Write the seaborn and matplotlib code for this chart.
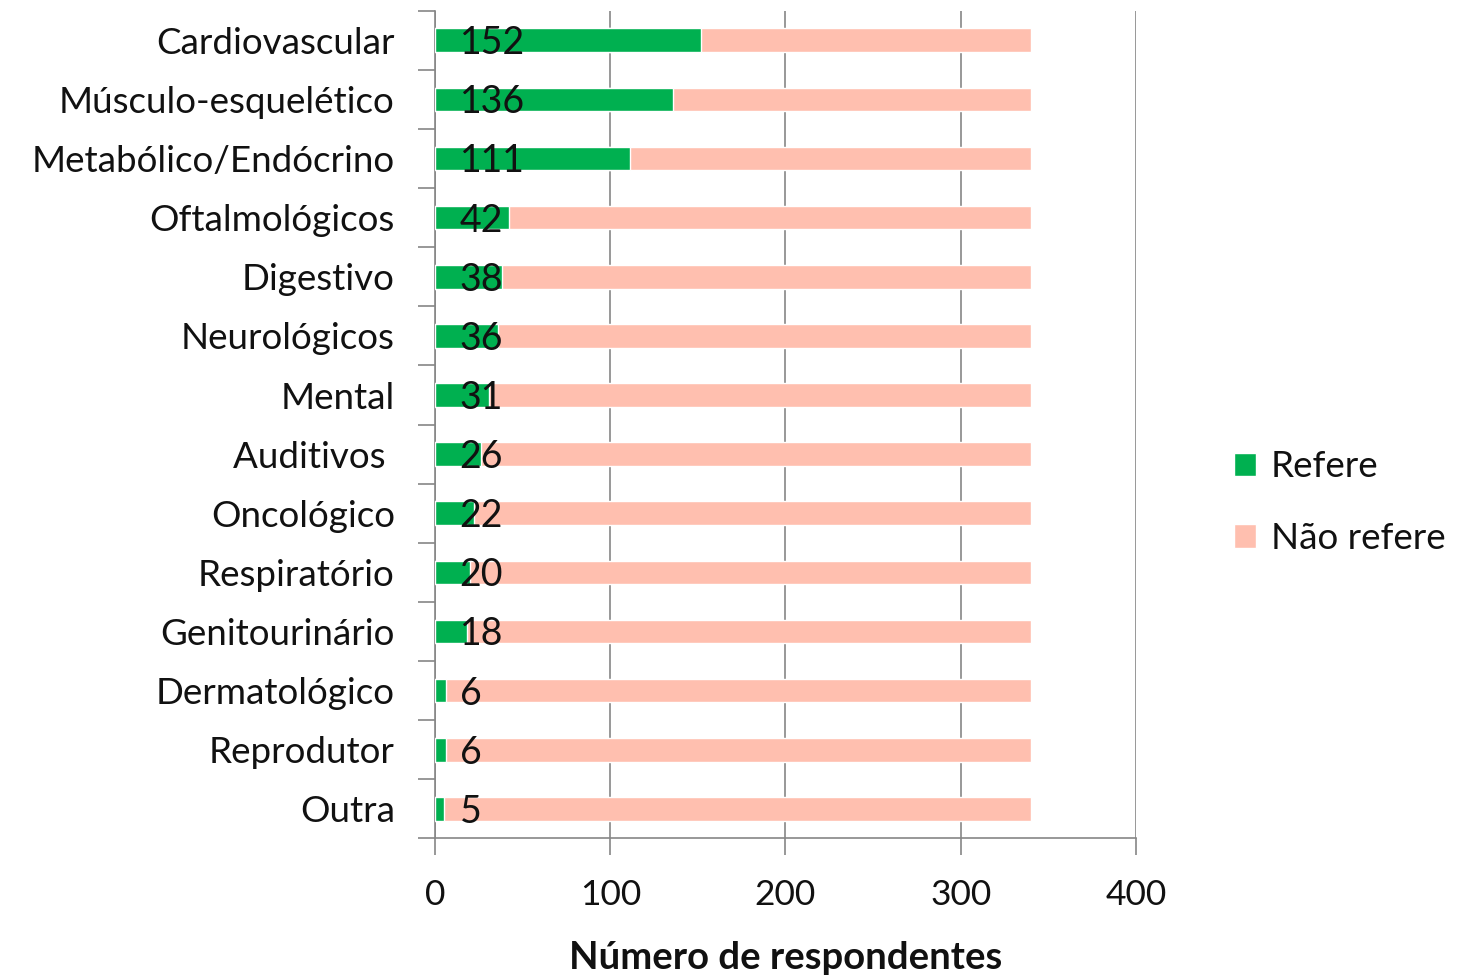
import matplotlib
matplotlib.use("Agg")
import matplotlib.pyplot as plt
import seaborn as sns
import pandas as pd
import numpy as np
from matplotlib.patches import Patch

categories = ["Cardiovascular", "Músculo-esquelético", "Metabólico/Endócrino",
              "Oftalmológicos", "Digestivo", "Neurológicos", "Mental",
              "Auditivos ", "Oncológico", "Respiratório", "Genitourinário",
              "Dermatológico", "Reprodutor", "Outra"]
refere = [152, 136, 111, 42, 38, 36, 31, 26, 22, 20, 18, 6, 6, 5]
nao_refere = [188, 204, 229, 298, 302, 304, 309, 314, 318, 320, 322, 334, 334, 335]
x_ticks = [0, 100, 200, 300, 400]

df = pd.DataFrame({"cat": categories, "Refere": refere, "Não refere": nao_refere})
df["total"] = df["Refere"] + df["Não refere"]

sns.set_theme(style="white")
plt.rcParams["font.family"] = ["Lato", "DejaVu Sans"]

GREEN = "#00B050"
PINK = "#FFBFAF"

fig = plt.figure(figsize=(14.6, 9.76), dpi=100)
ax = fig.add_axes([0.298, 0.141, 0.48, 0.848])

sns.barplot(data=df, y="cat", x="total", color=PINK, orient="h", width=0.4,
            saturation=1, ax=ax, zorder=3)
sns.barplot(data=df, y="cat", x="Refere", color=GREEN, orient="h", width=0.4,
            saturation=1, ax=ax, zorder=4)

for i, v in enumerate(refere):
    ax.text(14, i + 0.05, str(v), ha="left", va="center", fontsize=27,
            color="#111111", zorder=5)

ax.set_xlim(0, 400)
ax.set_ylim(len(categories) - 0.5, -0.5)
ax.set_xticks(x_ticks)
ax.set_xticklabels([str(t) for t in x_ticks])
ax.grid(axis="x", color="#868686", lw=1.2, zorder=0)
ax.set_axisbelow(True)
ax.set_yticks(np.arange(len(categories)))
ax.set_yticklabels(categories)
ax.set_yticks(np.arange(len(categories) + 1) - 0.5, minor=True)
ax.tick_params(axis="y", which="major", length=0, pad=29, labelsize=26.5, labelcolor="#111111")
ax.tick_params(axis="y", which="minor", length=12, width=1.2, color="#868686", left=True)
ax.tick_params(axis="x", which="major", length=12, width=1.2, color="#868686", bottom=True,
               direction="out", pad=17, labelsize=25.5, labelcolor="#111111")

for s in ["top", "right"]:
    ax.spines[s].set_visible(False)
for s in ["left", "bottom"]:
    ax.spines[s].set_color("#868686")
    ax.spines[s].set_linewidth(1.2)

ax.set_ylabel("")
ax.set_xlabel("Número de respondentes", fontsize=27.5, fontweight="bold", labelpad=22,
              color="#111111")

handles = [Patch(facecolor=GREEN, label="Refere"), Patch(facecolor=PINK, label="Não refere")]
fig.legend(handles=handles, loc="center left", bbox_to_anchor=(0.8225, 0.485), frameon=False,
           fontsize=26.5, handlelength=0.6, handleheight=0.6, handletextpad=0.4,
           labelspacing=1.05, labelcolor="#111111")

fig.savefig("out.png", dpi=100)
